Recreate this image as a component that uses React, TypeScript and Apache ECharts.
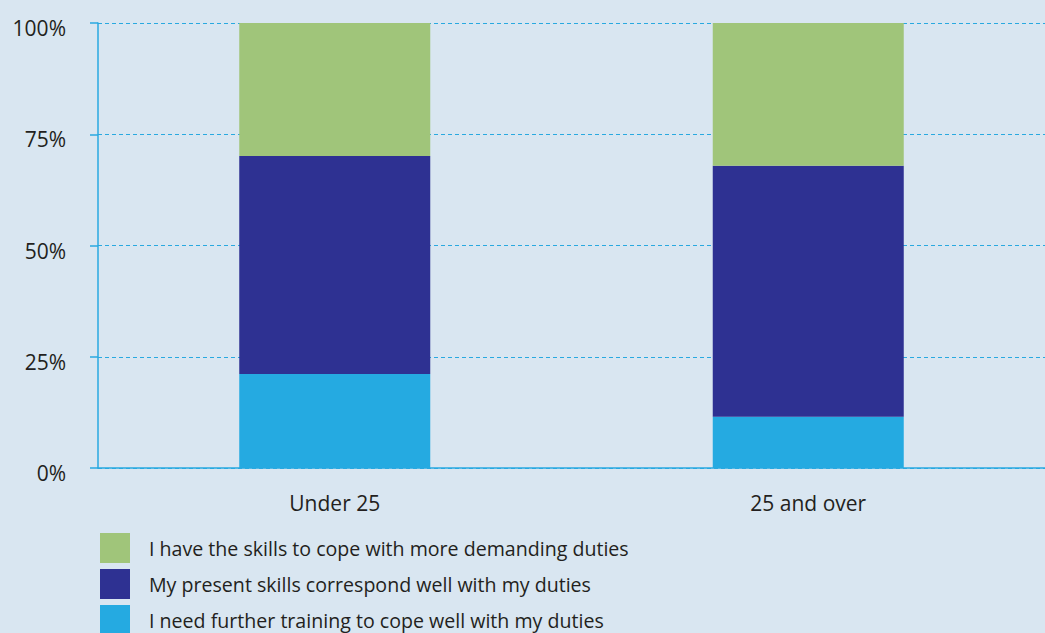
import React, { useEffect, useRef } from "react";
import * as echarts from "echarts";

const categories = ["Under 25", "25 and over"];
const seriesNames = [
  "I need further training to cope well with my duties",
  "My present skills correspond well with my duties",
  "I have the skills to cope with more demanding duties",
];
const needTraining = [21.1, 11.5];
const correspondWell = [49.0, 56.4];
const moreDemanding = [29.9, 32.1];
const legendOrder = [seriesNames[2], seriesNames[1], seriesNames[0]];
const colors = ["#25aae1", "#2e3192", "#a0c57a"];

export default function App() {
  const ref = useRef<HTMLDivElement>(null);
  useEffect(() => {
    const chart = echarts.init(ref.current!, null, { renderer: "svg" });
    const font = "'Open Sans', 'Noto Sans', sans-serif";
    const values = [needTraining, correspondWell, moreDemanding];
    chart.setOption({
      animation: false,
      backgroundColor: "#d9e6f1",
      textStyle: { fontFamily: font },
      grid: { left: 98, width: 953, top: 23, bottom: 165, containLabel: false },
      legend: {
        orient: "vertical",
        left: 100,
        top: 533,
        height: 120,
        padding: 0,
        itemWidth: 30,
        itemHeight: 30,
        itemGap: 6,
        icon: "rect",
        data: legendOrder,
        selectedMode: false,
        textStyle: {
          fontSize: 19.6,
          color: "#231f20",
          fontFamily: font,
          padding: [0, 0, 0, 14],
        },
      },
      xAxis: {
        type: "category",
        data: categories,
        axisLine: { lineStyle: { color: "#29a9e0", width: 1.5 } },
        axisTick: { show: false },
        axisLabel: { fontSize: 21, color: "#231f20", margin: 24, fontFamily: font },
      },
      yAxis: {
        type: "value",
        min: 0,
        max: 100,
        interval: 25,
        axisLine: { show: true, lineStyle: { color: "#29a9e0", width: 1.5 } },
        axisTick: { show: true, length: 8, lineStyle: { color: "#29a9e0", width: 1.5 } },
        axisLabel: {
          formatter: "{value}%",
          fontSize: 21,
          color: "#231f20",
          margin: 32,
          verticalAlign: "top",
          lineHeight: 10,
          fontFamily: font,
        },
        splitLine: { lineStyle: { color: "#29a9e0", type: [4, 3], width: 1 } },
      },
      series: seriesNames.map((name, i) => ({
        name,
        type: "bar",
        stack: "total",
        barWidth: 191,
        data: values[i],
        itemStyle: { color: colors[i] },
      })),
    });
    return () => chart.dispose();
  }, []);
  return <div ref={ref} style={{ width: 1045, height: 633, position: "absolute", left: 0, top: 0 }} />;
}
